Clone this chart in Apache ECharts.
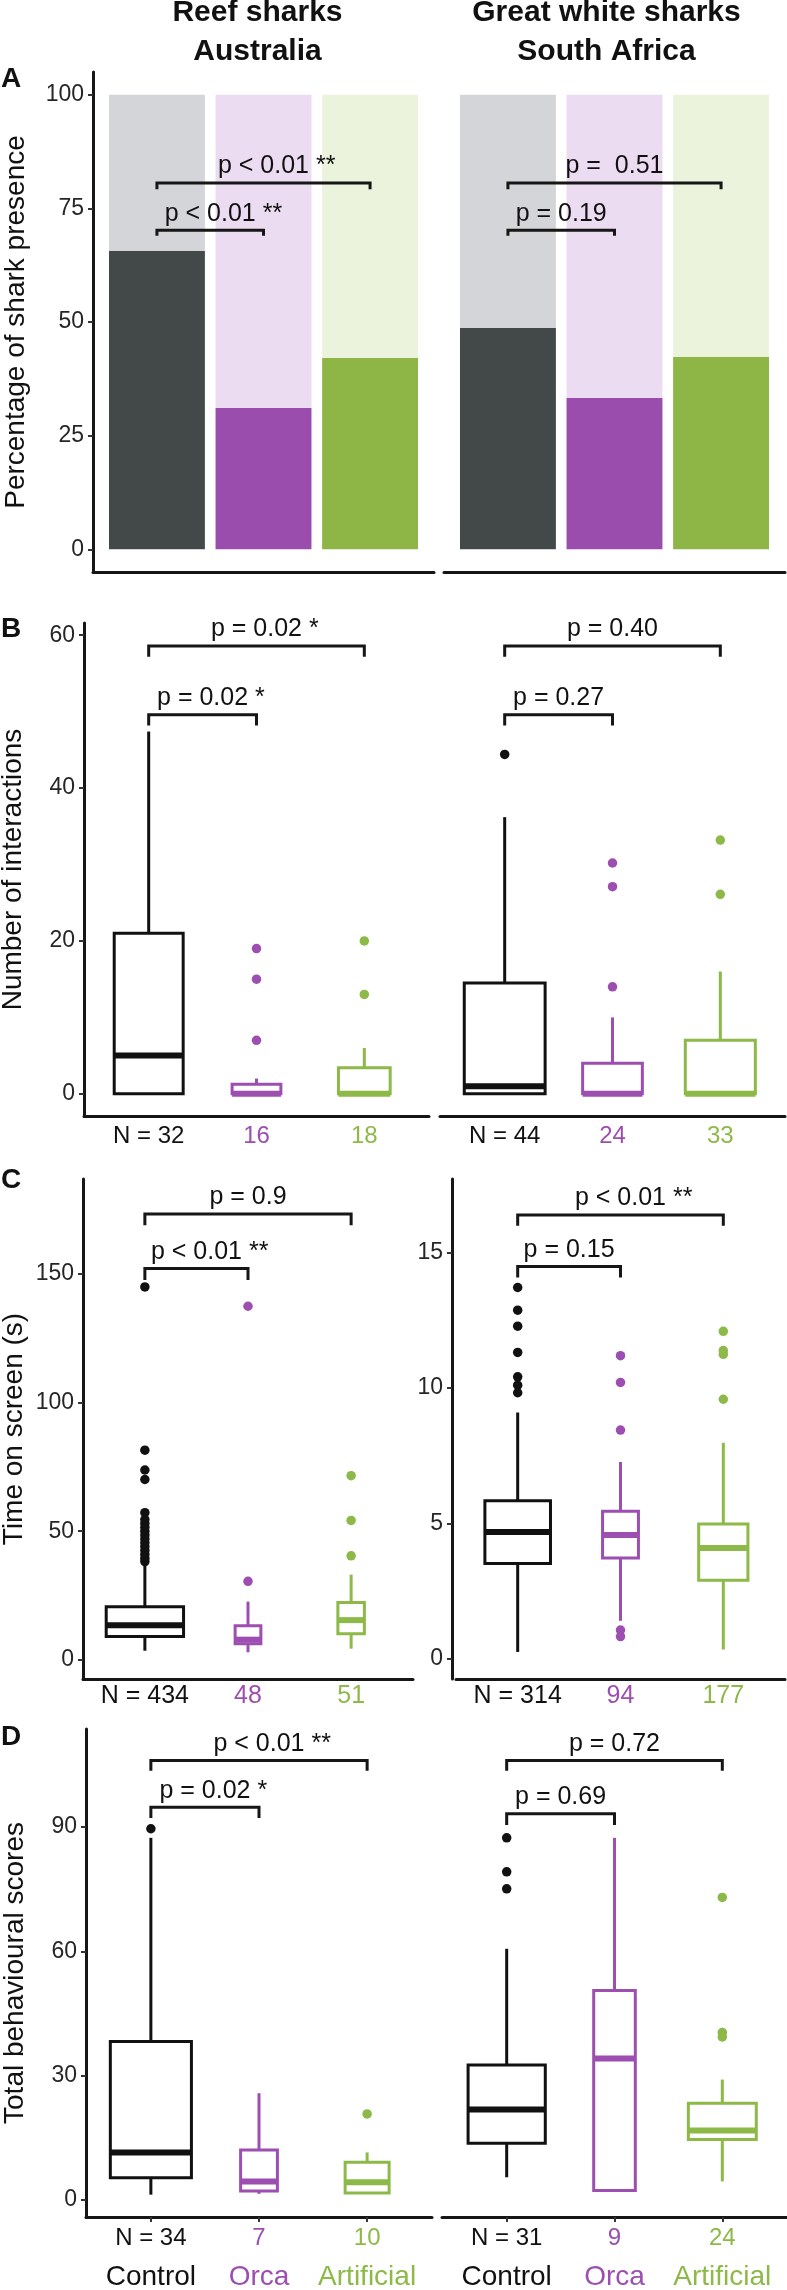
<!DOCTYPE html>
<html><head><meta charset="utf-8">
<script src="https://cdn.jsdelivr.net/npm/echarts@6/dist/echarts.min.js"></script>
<style>html,body{margin:0;padding:0;background:#fff}#chart{width:787px;height:2290px}</style>
</head><body><div id="chart"></div>
<script>
// ---------------- DATA ----------------
const groups = ['Control', 'Orca', 'Artificial'];
const siteTitles = [['Reef sharks', 'Australia'], ['Great white sharks', 'South Africa']];
const panelLetters = ['A', 'B', 'C', 'D'];
const yTitles = ['Percentage of shark presence', 'Number of interactions', 'Time on screen (s)', 'Total behavioural scores'];

// A: percentage of shark presence (total = 100)
const presenceTotal = 100;
const presenceReef = [65.6, 31.1, 42.1];
const presenceWhite = [48.7, 33.3, 42.3];

// B: number of interactions, box stats [min, Q1, median, Q3, max]
const interReefBox = [[0, 0, 5, 21, 47.4], [0, 0, 0, 1.25, 2], [0, 0, 0, 3.4, 6]];
const interReefOut = [[], [19, 15, 7], [20, 13]];
const interReefN = [32, 16, 18];
const interWhiteBox = [[0, 0, 1, 14.5, 36.2], [0, 0, 0, 4, 10], [0, 0, 0, 7, 16]];
const interWhiteOut = [[44.4], [30.2, 27.1, 14], [33.2, 26.1]];
const interWhiteN = [44, 24, 33];

// C: time on screen (s)
const timeReefBox = [[3.5, 9, 13.4, 20.6, 37.5], [2.9, 6.2, 7.8, 13.2, 22.6], [4.3, 10.1, 15.4, 22.3, 33.1]];
const timeReefOut = [[145, 81.5, 73.8, 70.1, 57.2, 54.5, 53, 51.5, 50, 48.5, 47, 45.5, 44, 42.5, 41, 39.5, 38.2], [137.5, 30.5], [71.6, 54.2, 40.4]];
const timeReefN = [434, 48, 51];
const timeWhiteBox = [[0.25, 3.52, 4.68, 5.84, 9.1], [1.4, 3.72, 4.57, 5.45, 7.27], [0.34, 2.9, 4.09, 4.98, 7.98]];
const timeWhiteOut = [[13.72, 12.88, 12.29, 11.32, 10.42, 10.11, 9.83], [11.2, 10.21, 8.45, 1.06, 0.82], [12.1, 11.39, 11.25, 9.59]];
const timeWhiteN = [314, 94, 177];

// D: total behavioural scores
const scoreReefBox = [[1.2, 5.3, 11.4, 38.2, 87.4], [1.4, 2.1, 4.4, 12, 25.7], [1.5, 1.6, 4.2, 9, 11.4]];
const scoreReefOut = [[89.6], [], [20.7]];
const scoreReefN = [34, 7, 10];
const scoreWhiteBox = [[5.4, 13.6, 21.8, 32.5, 60.6], [2.2, 2.2, 34.1, 50.5, 87.4], [4.4, 14.5, 16.7, 23.3, 29]];
const scoreWhiteOut = [[87.4, 79.2, 75.1], [], [73, 40.4, 39.3]];
const scoreWhiteN = [31, 9, 24];

// significance brackets: [from group, to group, bar level, tip level, label, stars]
const sigAReef = [[1, 3, 80.6, 79.2, 'p < 0.01', '**'], [1, 2, 70.2, 69, 'p < 0.01', '**']];
const sigAWhite = [[1, 3, 80.6, 79.2, 'p =  0.51', ''], [1, 2, 70.2, 69, 'p = 0.19', '']];
const sigBReef = [[1, 3, 58.6, 57.2, 'p = 0.02', '*'], [1, 2, 49.6, 48.2, 'p = 0.02', '*']];
const sigBWhite = [[1, 3, 58.6, 57.2, 'p = 0.40', ''], [1, 2, 49.6, 48.2, 'p = 0.27', '']];
const sigCReef = [[1, 3, 173.4, 169, 'p = 0.9', ''], [1, 2, 152.2, 147.7, 'p < 0.01', '**']];
const sigCWhite = [[1, 3, 16.4, 16.0, 'p < 0.01', '**'], [1, 2, 14.5, 14.09, 'p = 0.15', '']];
const sigDReef = [[1, 3, 106.1, 103.6, 'p < 0.01', '**'], [1, 2, 94.8, 92.2, 'p = 0.02', '*']];
const sigDWhite = [[1, 3, 106.1, 103.6, 'p = 0.72', ''], [1, 2, 93.2, 90.5, 'p = 0.69', '']];

// tick labels
const ticksA = [0, 25, 50, 75, 100];
const ticksB = [0, 20, 40, 60];
const ticksCReef = [0, 50, 100, 150];
const ticksCWhite = [0, 5, 10, 15];
const ticksD = [0, 30, 60, 90];

// ---------------- STYLE ----------------
const FONT = '"Liberation Sans", Arial, Helvetica, sans-serif';
const AXIS = '#161616';
const BOX_COLORS = ['#111111', '#9c4fb0', '#8cb947'];
const BAR_DARK = ['#434849', '#9b4dae', '#8eb646'];
const BAR_LIGHT = ['#d4d5d9', '#ecdcf1', '#ebf3dd'];

const mctx = document.createElement('canvas').getContext('2d');
function textWidth(t, size) { mctx.font = size + 'px ' + FONT; return mctx.measureText(t).width; }

const nmaxB = Math.max(...interReefN, ...interWhiteN);
const nmaxC = Math.max(...timeReefN, ...timeWhiteN);
const nmaxD = Math.max(...scoreReefN, ...scoreWhiteN);

const panels = [
  {grid: {left: 93, top: 72, width: 341, height: 500}, y: [-5, 105], ticks: ticksA, showY: true, name: yTitles[0], nameGap: 63,
   bars: presenceReef, sig: sigAReef},
  {grid: {left: 444, top: 72, width: 341, height: 500}, y: [-5, 105], ticks: ticksA, showY: false,
   bars: presenceWhite, sig: sigAWhite},
  {grid: {left: 84, top: 623, width: 345, height: 493}, y: [-2.9, 61.6], ticks: ticksB, showY: true, name: yTitles[1], nameGap: 57,
   box: interReefBox, out: interReefOut, n: interReefN, nmax: nmaxB, sig: sigBReef, xMargin: 5, nSize: 24},
  {grid: {left: 440, top: 623, width: 345, height: 493}, y: [-2.9, 61.6], ticks: ticksB, showY: false,
   box: interWhiteBox, out: interWhiteOut, n: interWhiteN, nmax: nmaxB, sig: sigBWhite, xMargin: 5, nSize: 24},
  {grid: {left: 83, top: 1179, width: 330, height: 500}, y: [-7.5, 187], ticks: ticksCReef, showY: true, name: yTitles[2], nameGap: 55,
   box: timeReefBox, out: timeReefOut, n: timeReefN, nmax: nmaxC, sig: sigCReef, xMargin: 2, nSize: 25},
  {grid: {left: 456, top: 1179, width: 329, height: 500}, y: [-0.75, 17.73], ticks: ticksCWhite, showY: true, yOffset: 4,
   box: timeWhiteBox, out: timeWhiteOut, n: timeWhiteN, nmax: nmaxC, sig: sigCWhite, xMargin: 2, nSize: 25},
  {grid: {left: 86, top: 1729, width: 346, height: 488}, y: [-4.2, 113.7], ticks: ticksD, showY: true, name: yTitles[3], nameGap: 57,
   box: scoreReefBox, out: scoreReefOut, n: scoreReefN, nmax: nmaxD, sig: sigDReef, xMargin: 2, nSize: 24, cats: true},
  {grid: {left: 442, top: 1729, width: 345, height: 488}, y: [-4.2, 113.7], ticks: ticksD, showY: false,
   box: scoreWhiteBox, out: scoreWhiteOut, n: scoreWhiteN, nmax: nmaxD, sig: sigDWhite, xMargin: 2, nSize: 24, cats: true}
];

function renderBar(params, api) {
  const x = api.value(0), v = api.value(1), g = api.value(2), hw = 0.45;
  const pTop = api.coord([x - hw, presenceTotal]);
  const pVal = api.coord([x + hw, v]);
  const pZero = api.coord([x - hw, 0]);
  const left = pTop[0], w = pVal[0] - pTop[0];
  return {type: 'group', children: [
    {type: 'rect', shape: {x: left, y: pTop[1], width: w, height: pVal[1] - pTop[1]}, style: {fill: BAR_LIGHT[g]}},
    {type: 'rect', shape: {x: left, y: pVal[1], width: w, height: pZero[1] - pVal[1]}, style: {fill: BAR_DARK[g]}}
  ]};
}

function renderBox(params, api) {
  const x = api.value(0), hw = api.value(6) / 2, g = api.value(7);
  const col = BOX_COLORS[g];
  const pMin = api.coord([x, api.value(1)]);
  const pQ1 = api.coord([x - hw, api.value(2)]);
  const pMed = api.coord([x, api.value(3)]);
  const pQ3 = api.coord([x + hw, api.value(4)]);
  const pMax = api.coord([x, api.value(5)]);
  const left = pQ1[0], right = pQ3[0];
  return {type: 'group', children: [
    {type: 'line', shape: {x1: pMin[0], y1: pMin[1], x2: pMin[0], y2: pQ1[1]}, style: {stroke: col, lineWidth: 3}},
    {type: 'line', shape: {x1: pMax[0], y1: pMax[1], x2: pMax[0], y2: pQ3[1]}, style: {stroke: col, lineWidth: 3}},
    {type: 'rect', shape: {x: left, y: pQ3[1], width: right - left, height: pQ1[1] - pQ3[1]}, style: {fill: '#fff', stroke: col, lineWidth: 3}},
    {type: 'line', shape: {x1: left, y1: pMed[1], x2: right, y2: pMed[1]}, style: {stroke: col, lineWidth: 6}}
  ]};
}

function makeBracketRender(sig) {
  const FS = 25;
  return function (params, api) {
    const s = sig[params.dataIndex];
    const a = api.coord([s[0], s[3]]), b = api.coord([s[0], s[2]]), c = api.coord([s[1], s[2]]), d = api.coord([s[1], s[3]]);
    const cx = (b[0] + c[0]) / 2;
    const ty = b[1] - 4;
    const children = [
      {type: 'polyline', shape: {points: [a, b, c, d]}, style: {stroke: AXIS, lineWidth: 3, fill: null}},
      {type: 'text', style: {text: s[4], x: cx, y: ty, align: 'center', verticalAlign: 'bottom', fontSize: FS, fontFamily: FONT, fill: '#111'}}
    ];
    if (s[5]) {
      children.push({type: 'text', style: {text: ' ' + s[5], x: cx + textWidth(s[4], FS) / 2, y: ty, align: 'left', verticalAlign: 'bottom', fontSize: FS, fontFamily: FONT, fill: '#111'}});
    }
    return {type: 'group', children: children};
  };
}

const grid = [], xAxis = [], yAxis = [], series = [];
panels.forEach(function (p, i) {
  grid.push(Object.assign({containLabel: false, outerBoundsMode: 'none'}, p.grid));
  const rich = {};
  if (p.n) {
    [0, 1, 2].forEach(function (j) {
      rich['n' + j] = {color: BOX_COLORS[j], fontSize: p.nSize, fontFamily: FONT, lineHeight: p.cats ? 39 : 30};
      rich['c' + j] = {color: BOX_COLORS[j], fontSize: 28, fontFamily: FONT, lineHeight: 39};
    });
  }
  xAxis.push({
    type: 'value', gridIndex: i, min: 0.4, max: 3.6,
    axisLine: {show: true, onZero: false, lineStyle: {color: AXIS, width: 3}},
    axisTick: {show: !!p.cats, customValues: [1, 2, 3], length: 5, lineStyle: {color: '#333', width: 2}},
    axisLabel: {
      show: !!p.n, customValues: [1, 2, 3], margin: p.xMargin || 5, hideOverlap: false,
      formatter: function (v) {
        const j = Math.round(v) - 1;
        if (!p.n || j < 0 || j > 2) return '';
        let s = '{n' + j + '|' + (j === 0 ? 'N = ' + p.n[j] : String(p.n[j])) + '}';
        if (p.cats) s += '\n{c' + j + '|' + groups[j] + '}';
        return s;
      },
      rich: rich
    },
    splitLine: {show: false}
  });
  yAxis.push({
    type: 'value', gridIndex: i, min: p.y[0], max: p.y[1], offset: p.yOffset || 0,
    axisLine: {show: p.showY, onZero: false, lineStyle: {color: AXIS, width: 3}},
    axisTick: {show: p.showY, customValues: p.ticks, length: 5, lineStyle: {color: '#333', width: 2}},
    axisLabel: {show: p.showY, customValues: p.ticks, margin: 9, fontSize: 23, color: '#262626', fontFamily: FONT},
    splitLine: {show: false},
    name: p.name || '', nameLocation: 'middle', nameRotate: 90, nameGap: p.nameGap || 0,
    nameTextStyle: {fontSize: 28, color: '#111', fontFamily: FONT}
  });
  if (p.bars) {
    series.push({type: 'custom', xAxisIndex: i, yAxisIndex: i, z: 1,
      data: p.bars.map(function (v, j) { return [j + 1, v, j]; }),
      encode: {x: 0, y: 1}, renderItem: renderBar});
  }
  if (p.box) {
    series.push({type: 'custom', xAxisIndex: i, yAxisIndex: i, z: 2,
      data: p.box.map(function (b, j) { return [j + 1].concat(b, [0.75 * Math.sqrt(p.n[j] / p.nmax), j]); }),
      encode: {x: 0, y: [1, 2, 3, 4, 5]}, renderItem: renderBox});
    const od = [];
    p.out.forEach(function (arr, j) { arr.forEach(function (v) { od.push([j + 1, v, j]); }); });
    series.push({type: 'scatter', xAxisIndex: i, yAxisIndex: i, z: 3, clip: false, symbolSize: 9.5,
      data: od, itemStyle: {opacity: 1, color: function (prm) { return BOX_COLORS[prm.data[2]]; }}});
  }
  series.push({type: 'custom', xAxisIndex: i, yAxisIndex: i, z: 4,
    data: p.sig.map(function (s) { return [s[0], s[1], s[2], s[3]]; }),
    encode: {x: [0, 1], y: [2, 3]}, renderItem: makeBracketRender(p.sig)});
});

// column titles and panel letters
const graphic = [];
const titleX = [257.5, 606.5];
siteTitles.forEach(function (lines, k) {
  lines.forEach(function (t, li) {
    graphic.push({type: 'text', x: titleX[k], y: [12.3, 51.3][li], style: {text: t, align: 'center', verticalAlign: 'middle', fontSize: 30, fontWeight: 'bold', fontFamily: FONT, fill: '#111'}});
  });
});
const letterY = [79.5, 629.5, 1180.5, 1737.5];
panelLetters.forEach(function (t, k) {
  graphic.push({type: 'text', x: 1, y: letterY[k], style: {text: t, align: 'left', verticalAlign: 'middle', fontSize: 28, fontWeight: 'bold', fontFamily: FONT, fill: '#111'}});
});

const chart = echarts.init(document.getElementById('chart'), null, {renderer: 'canvas', width: 787, height: 2290});
chart.setOption({
  backgroundColor: '#ffffff',
  animation: false,
  textStyle: {fontFamily: FONT},
  grid: grid, xAxis: xAxis, yAxis: yAxis, series: series, graphic: graphic
});
</script>
</body></html>
